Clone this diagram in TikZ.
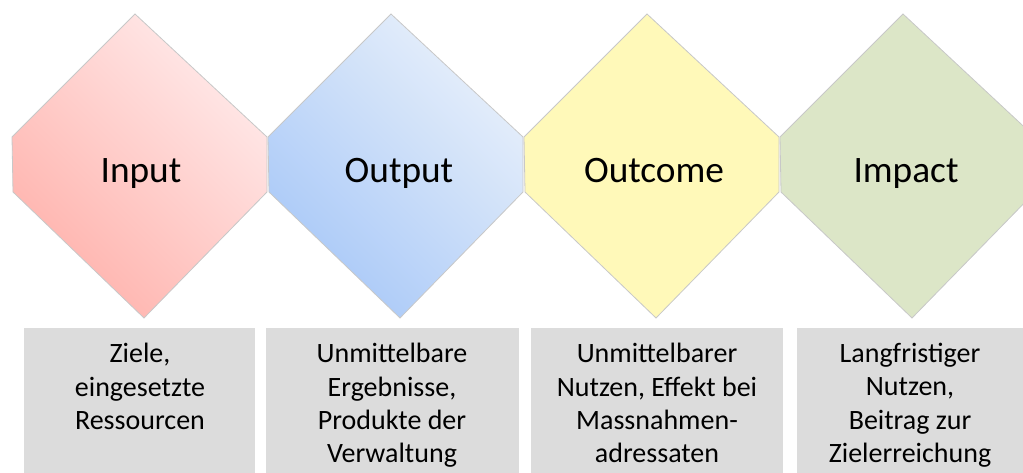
\documentclass[tikz,border=0pt]{standalone}
\usepackage{fontspec}
\setmainfont{Carlito}
\definecolor{pinkD}{RGB}{255,178,172}
\definecolor{pinkL}{RGB}{255,234,234}
\definecolor{blueD}{RGB}{168,200,248}
\definecolor{blueL}{RGB}{232,240,250}
\definecolor{yelF}{RGB}{255,249,185}
\definecolor{grnF}{RGB}{220,230,199}
\definecolor{boxF}{RGB}{220,220,220}
\definecolor{edgeC}{RGB}{200,200,200}
\tikzset{
  dia/.style={draw=edgeC, line width=0.6pt},
  title/.style={anchor=base, font=\fontsize{28pt}{33pt}\selectfont, inner sep=0pt},
  boxtext/.style={anchor=north, align=center, font=\fontsize{21pt}{25pt}\selectfont, inner sep=0pt},
  graybox/.style={fill=boxF, draw=none}
}
\newcommand{\diapath}[1]{(#1-5,14) -- (#1+127,137) -- (#1+127,192) -- (#1+4,318) -- (#1-127,192) -- (#1-128,137) -- cycle}
\begin{document}
\begin{tikzpicture}[x=0.75pt,y=-0.75pt]
\useasboundingbox (0,0) rectangle (1023,473);
\clip (0,0) rectangle (1023,473);
% diamonds
\path[dia, bottom color=pinkD, top color=pinkL, shading angle=-45] \diapath{140};
\path[dia, bottom color=blueD, top color=blueL, shading angle=-45] \diapath{396};
\path[dia, fill=yelF] \diapath{652};
\path[dia, fill=grnF] \diapath{908};
\node[title] (input) at (141,183) {Input};
\node[title] (output) at (399,183) {Output};
\node[title] (outcome) at (654,183) {Outcome};
\node[title] (impact) at (906,183) {Impact};
% boxes
\fill[graybox] (24,328) rectangle (255,480);
\fill[graybox] (266,328) rectangle (519,480);
\fill[graybox] (531,328) rectangle (783,480);
\fill[graybox] (797,328) rectangle (1030,480);
\node[boxtext] (t1) at (140,343) {Ziele,\\eingesetzte\\Ressourcen};
\node[boxtext] (t2) at (392,343) {Unmittelbare\\Ergebnisse,\\Produkte der\\Verwaltung};
\node[boxtext] (t3) at (657,343) {Unmittelbarer\\Nutzen, Effekt bei\\Massnahmen-\\adressaten};
\node[boxtext] (t4) at (910,343) {Langfristiger\\Nutzen,\\Beitrag zur\\Zielerreichung};
\end{tikzpicture}
\end{document}
